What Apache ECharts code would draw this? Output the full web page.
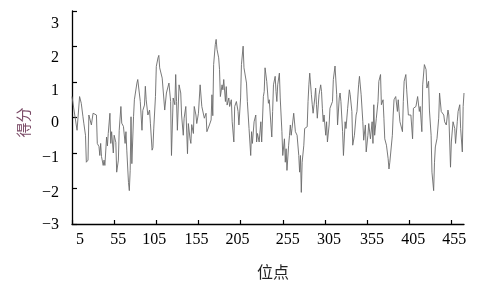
<!DOCTYPE html>
<html>
<head>
<meta charset="utf-8">
<script src="https://cdn.jsdelivr.net/npm/echarts@6/dist/echarts.min.js"></script>
<style>
html,body{margin:0;padding:0;background:#fff;}
#c{width:487px;height:290px;}
</style>
</head>
<body>
<div id="c"></div>
<script>
var sites = [5,7,11,14,16,18,19,21,22,24,25,27,28,30,32,34,35,37,38,39,40,42,43,44,46,47,48,50,51,52,54,55,57,58,60,61,63,64,66,68,69,70,72,73,74,75,76,78,79,80,82,83,85,86,88,89,91,92,93,95,97,98,100,101,102,104,105,107,
108,109,111,112,114,115,117,119,120,122,123,125,127,128,129,130,132,134,135,137,138,140,142,143,145,146,147,149,150,152,153,155,157,159,
160,162,164,165,167,168,170,171,172,173,175,176,177,179,180,181,183,184,185,187,188,189,191,192,194,195,197,198,200,202,203,205,206,208,209,210,212,213,215,217,218,219,221,223,224,225,227,229,230,232,233,234,236,238,
239,241,242,243,244,246,247,248,249,251,252,254,255,257,258,259,260,262,263,264,265,266,268,269,270,272,274,275,276,277,278,280,281,282,284,285,286,287,289,290,291,293,294,295,296,298,300,301,302,303,304,306,307,308,310,311,312,314,315,317,
319,320,322,323,324,326,327,329,330,332,334,335,337,338,340,342,343,345,346,348,350,351,353,354,356,357,359,361,362,363,364,366,368,369,371,372,374,375,376,378,380,381,382,383,385,386,387,389,391,392,393,
394,395,397,398,399,401,402,404,405,407,409,410,412,413,415,417,418,420,421,423,425,426,428,429,431,432,434,435,436,438,440,441,443,444,446,447,449,451,452,454,455,457,459,460,462,463,465,466,468,469,470];

var scores = [0.59,0.27,-0.36,0.59,0.40,0.02,-0.16,-0.5,-1.26,-1.2,0.07,0.02,-0.21,0.12,0.15,0.07,-0.73,-0.82,-1.07,-0.73,-1.1,-1.35,-1.2,-1.35,-0.55,-0.8,-0.45,0.12,-0.73,-0.4,-1.0,-0.5,-0.7,-1.54,-1.2,-0.36,0.31,-0.16,-0.25,-0.73,-0.4,-0.92,-1.83,-2.06,-1.5,0.02,-1.3,0.02,0.5,0.5,0.97,1.07,1.07,0.45,-0.36,0.2,0.35,0.88,0.5,0.07,0.21,-0.16,-0.92,-0.85,-0.3,0.59,1.44,1.68,
1.75,1.4,1.45,1.11,1.11,0.21,0.69,0.64,0.97,0.45,-1.07,0.55,0.36,1.21,0.45,-0.36,0.92,0.69,0.07,-0.5,-0.02,0.31,-1.02,-0.17,-0.6,-0.73,-0.2,-0.45,0.31,0.07,-0.17,0.12,0.92,0.31,
0.36,-0.02,0.12,-0.4,-0.45,-0.21,-0.07,0.64,0.05,1.49,2.06,2.2,1.92,1.68,1.35,0.59,0.92,0.78,1.07,0.45,0.87,0.35,0.55,0.31,0.5,-0.12,-0.69,0.31,0.45,0.17,-0.21,0.55,1.49,2.01,1.4,1.4,0.97,0.45,-0.31,-1.07,-0.4,-0.73,-0.12,0.07,-0.69,-0.45,-0.69,-0.12,-0.69,0.59,0.73,1.4,1.02,0.4,
0.5,-0.21,-0.55,0.17,0.92,1.16,0.73,0.45,0.92,1.25,0.55,-0.4,-1.07,-0.6,-1.26,-0.88,-1.49,-0.78,-0.5,-0.21,-0.5,-0.31,0.12,0.12,-0.4,-0.5,-1.07,-1.54,-1.07,-2.11,-1.26,-0.78,-0.31,-0.31,-0.26,0.45,0.92,1.25,0.64,0.36,0.12,0.55,0.83,0.36,-0.02,0.64,0.92,0.73,0.26,-0.12,0.07,-0.5,-0.12,-0.69,-0.21,0.26,0.31,0.45,1.07,1.45,
0.64,-0.21,0.55,0.69,0.45,-0.4,-1.07,-0.12,-0.31,0.26,0.78,0.64,0.17,-0.78,-0.5,0.07,0.17,0.92,1.16,0.64,-0.12,-0.64,-0.21,-0.97,-0.5,-0.17,-0.6,-0.12,-0.73,0.36,-0.5,-0.02,0.45,1.02,1.21,0.36,0.5,-0.02,-0.6,-0.78,-1.16,-1.45,-1.26,-1.26,-0.5,0.07,0.5,0.59,0.17,0.5,0.17,
-0.12,-0.21,-0.4,0.45,1.02,1.21,0.78,0.07,0.12,0.07,-0.6,0.26,0.31,0.31,0.59,0.17,0.31,-0.4,0.92,1.49,1.35,0.83,1.02,0.21,-0.5,-1.54,-2.06,-1.26,-0.83,-0.59,-0.02,0.69,0.17,0.12,0.07,-0.12,-0.21,0.21,0.07,-1.4,-0.69,-0.12,-0.31,-0.73,-0.12,0.17,0.36,-0.31,-0.97,0.31,0.69];

var xTicks = [5,55,105,155,205,255,305,355,405,455];
var yTicks = [-3,-2,-1,0,1,2,3];
var xLabelShift = [8,4,-2,-2,-3,5,4,5,4,3];
var yLabelShift = [1,4.5,5,5.5,9,11.5,12.5];
var xName = '位点';
var yName = '得分';

var serif = 'Liberation Serif';
function fmtNum(v){ return (v < 0 ? '\u2212' : '') + Math.abs(v); }

var xRich = {}, yRich = {};
xTicks.forEach(function(t, i){
  var d = xLabelShift[i];
  xRich['x' + i] = {fontFamily: serif, fontSize: 16, color: '#000',
    padding: d >= 0 ? [0, 0, 0, 2 * d] : [0, -2 * d, 0, 0]};
});
yTicks.forEach(function(t, i){
  var d = yLabelShift[i];
  yRich['y' + i] = {fontFamily: serif, fontSize: 16, color: '#000',
    padding: d >= 0 ? [2 * d, 0, 0, 0] : [0, 0, -2 * d, 0]};
});

var chart = echarts.init(document.getElementById('c'), null, {renderer: 'canvas'});
chart.setOption({
  animation: false,
  backgroundColor: '#fff',
  grid: {left: 72, right: 23, top: 11, bottom: 66, containLabel: false},
  xAxis: {
    type: 'value', min: 5, max: 470,
    name: xName, nameLocation: 'middle', nameGap: 40,
    nameTextStyle: {fontFamily: 'Noto Sans CJK SC', fontSize: 16, color: '#222', padding: [0, 0, 0, 10]},
    axisLine: {show: true, onZero: false, lineStyle: {color: '#000', width: 1.3}},
    axisTick: {show: true, inside: true, length: 4, customValues: xTicks, lineStyle: {color: '#000', width: 1.2}},
    axisLabel: {show: true, customValues: xTicks, margin: 8, fontFamily: serif, fontSize: 16, color: '#000',
      formatter: function(v){ var i = xTicks.indexOf(v); return '{x' + i + '|' + fmtNum(v) + '}'; },
      rich: xRich},
    splitLine: {show: false}
  },
  yAxis: {
    type: 'value', min: -3, max: 3, interval: 1,
    name: yName, nameLocation: 'middle', nameRotate: 90, nameGap: 38,
    nameTextStyle: {fontFamily: 'Noto Sans CJK SC', fontSize: 15, color: '#7a4a66', padding: [0, 10, 0, 0]},
    axisLine: {show: true, onZero: false, lineStyle: {color: '#000', width: 1.3}},
    axisTick: {show: true, inside: true, length: 5, lineStyle: {color: '#000', width: 1.2}},
    axisLabel: {show: true, margin: 13, fontFamily: serif, fontSize: 16, color: '#000',
      formatter: function(v){ var i = yTicks.indexOf(v); return '{y' + i + '|' + fmtNum(v) + '}'; },
      rich: yRich},
    splitLine: {show: false}
  },
  series: [{
    type: 'line',
    data: sites.map(function(s, i){ return [s, scores[i]]; }),
    showSymbol: false,
    symbol: 'none',
    lineStyle: {color: '#6a6a6a', width: 0.9},
    silent: true
  }]
});
</script>
</body>
</html>
